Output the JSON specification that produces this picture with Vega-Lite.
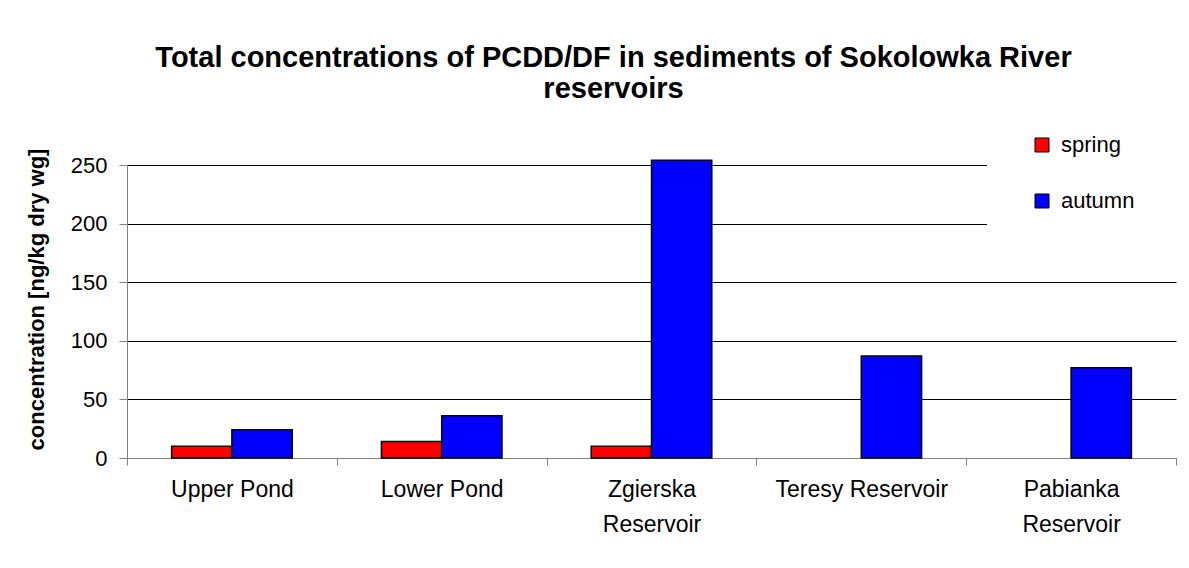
{
  "$schema": "https://vega.github.io/schema/vega-lite/v6.json",
  "autosize": {"type": "none"},
  "width": 1049,
  "height": 293,
  "padding": {"left": 127, "top": 165, "right": 13, "bottom": 110},
  "background": "white",
  "title": {
    "text": ["Total concentrations of PCDD/DF in sediments of Sokolowka River", "reservoirs"],
    "font": "Liberation Sans",
    "fontSize": 29,
    "fontWeight": "bold",
    "color": "black",
    "anchor": "middle",
    "frame": "group",
    "dx": -38,
    "offset": 14,
    "lineHeight": 31
  },
  "data": {
    "values": [
      {"site": "Upper Pond", "season": "spring", "value": 10},
      {"site": "Upper Pond", "season": "autumn", "value": 24},
      {"site": "Lower Pond", "season": "spring", "value": 14},
      {"site": "Lower Pond", "season": "autumn", "value": 36},
      {"site": "Zgierska Reservoir", "season": "spring", "value": 10},
      {"site": "Zgierska Reservoir", "season": "autumn", "value": 254},
      {"site": "Teresy Reservoir", "season": "autumn", "value": 87},
      {"site": "Pabianka Reservoir", "season": "autumn", "value": 77}
    ]
  },
  "mark": {"type": "bar", "stroke": "black", "strokeWidth": 1.5, "clip": false},
  "encoding": {
    "x": {
      "field": "site",
      "type": "nominal",
      "sort": ["Upper Pond", "Lower Pond", "Zgierska Reservoir", "Teresy Reservoir", "Pabianka Reservoir"],
      "scale": {"paddingInner": 0, "paddingOuter": 0},
      "axis": {
        "title": null,
        "labelAngle": 0,
        "labelFont": "Liberation Sans",
        "labelFontSize": 23,
        "labelColor": "black",
        "labelPadding": 13,
        "labelLineHeight": 35,
        "labelExpr": "(indexof(datum.label, 'Zgierska') >= 0 || indexof(datum.label, 'Pabianka') >= 0) ? split(datum.label, ' ') : datum.label",
        "tickBand": "extent",
        "tickSize": 7,
        "tickColor": "#808080",
        "domainColor": "#808080",
        "grid": false
      }
    },
    "xOffset": {
      "field": "season",
      "type": "nominal",
      "scale": {"domain": ["spring", "autumn"], "paddingOuter": 0.74, "paddingInner": 0}
    },
    "y": {
      "field": "value",
      "type": "quantitative",
      "scale": {"domain": [0, 250], "nice": false},
      "axis": {
        "title": "concentration [ng/kg dry wg]",
        "titleFont": "Liberation Sans",
        "titleFontSize": 22,
        "titleFontWeight": "bold",
        "titleColor": "black",
        "titlePadding": 22,
        "titleY": 134,
        "values": [0, 50, 100, 150, 200, 250],
        "labelFont": "Liberation Sans",
        "labelFontSize": 22,
        "labelColor": "black",
        "labelPadding": 12,
        "tickSize": 8,
        "tickColor": "#808080",
        "domainColor": "#808080",
        "grid": true,
        "gridColor": "black",
        "gridWidth": 1
      }
    },
    "color": {
      "field": "season",
      "type": "nominal",
      "scale": {"domain": ["spring", "autumn"], "range": ["#FF0000", "#0000FF"]},
      "legend": {
        "title": null,
        "orient": "none",
        "legendX": 860,
        "legendY": -47,
        "fillColor": "white",
        "padding": 16,
        "symbolOffset": 28,
        "symbolType": "square",
        "symbolSize": 196,
        "symbolStrokeColor": "black",
        "symbolStrokeWidth": 1,
        "symbolOpacity": 1,
        "labelFont": "Liberation Sans",
        "labelFontSize": 22,
        "labelColor": "black",
        "labelOffset": 8,
        "labelLimit": 600,
        "rowPadding": 34,
        "labelExpr": "datum.label + '\u2800\u2800'"
      }
    }
  },
  "config": {"view": {"stroke": null}}
}
